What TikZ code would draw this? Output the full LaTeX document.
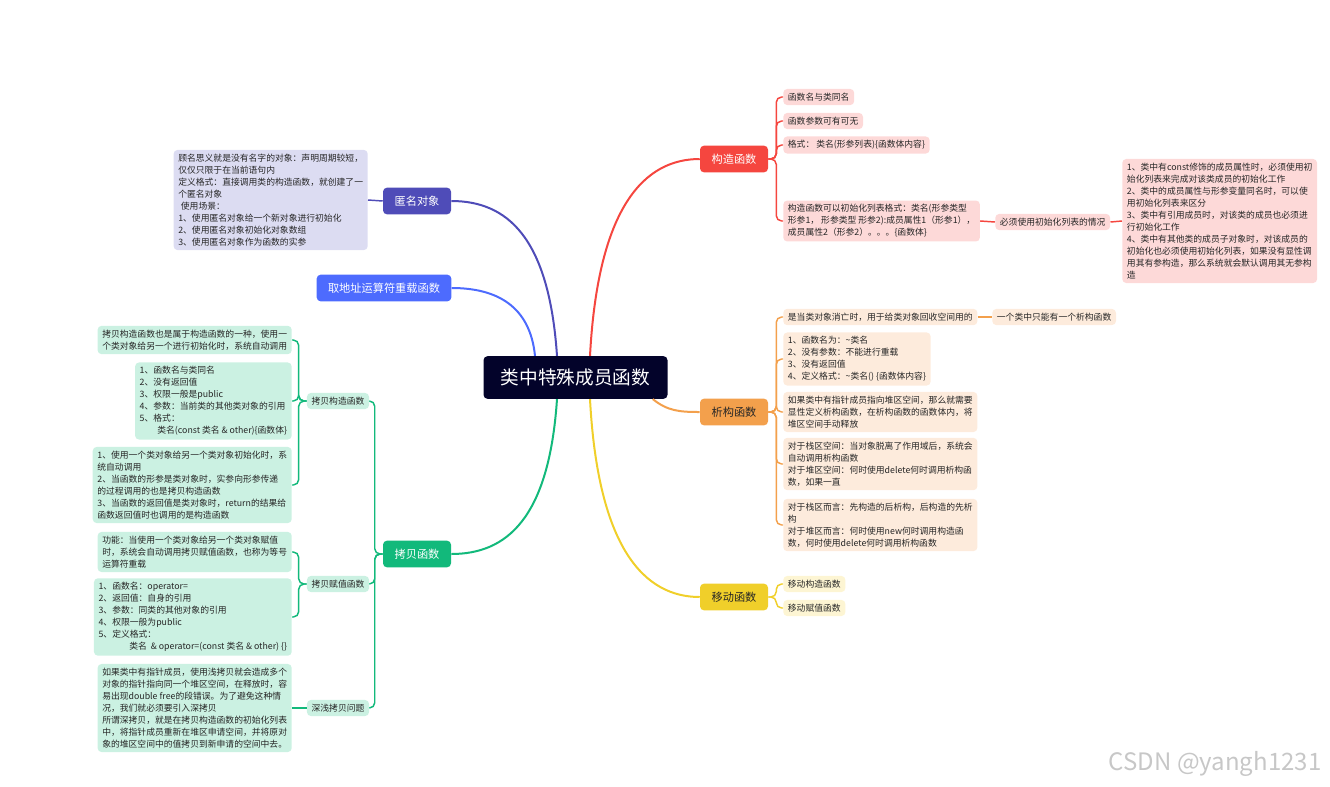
\documentclass[tikz,border=0pt]{standalone}
\usepackage{fontspec}
\setmainfont{Noto Sans CJK SC}
\usetikzlibrary{calc}
\definecolor{centro}{HTML}{03032A}
\definecolor{rojo}{HTML}{F5463F}
\definecolor{rojoc}{HTML}{FDD9D8}
\definecolor{naranja}{HTML}{F3A04C}
\definecolor{naranjac}{HTML}{FDEBDC}
\definecolor{amarillo}{HTML}{F0CF2A}
\definecolor{amarilloc}{HTML}{FDF5D3}
\definecolor{verde}{HTML}{12B97B}
\definecolor{verdec}{HTML}{CBF1E2}
\definecolor{azul}{HTML}{4D6BFE}
\definecolor{morado}{HTML}{4F4CB8}
\definecolor{moradoc}{HTML}{DCDCF2}
\begin{document}
\begin{tikzpicture}[x=0.75pt, y=-0.75pt,
    raiz/.style={fill=centro, text=white, rounded corners=3pt, minimum width=138pt, minimum height=32pt, font=\fontsize{14}{16}\selectfont},
    rama/.style={rounded corners=3pt, minimum width=51pt, minimum height=20pt, inner xsep=6pt, font=\fontsize{8.4}{10}\selectfont},
    hoja/.style={rounded corners=3pt, align=left, inner xsep=3.5pt, inner ysep=3pt, font=\fontsize{6.6}{9}\selectfont, text=black!85},
    curva/.style={line width=1.5pt},
    enlace/.style={line width=1.1pt, rounded corners=4pt}]
    \useasboundingbox (0,0) rectangle (1330,786);

    % Nodo central
    \node[raiz] (raiz) at (575.5,377.5) {类中特殊成员函数};

    % Ramas principales
    \node[rama, fill=morado, text=white] (anon) at (417,201) {匿名对象};
    \node[rama, fill=azul, text=white, minimum width=101pt] (direc) at (384,288) {取地址运算符重载函数};
    \node[rama, fill=rojo, text=white] (constr) at (734,159) {构造函数};
    \node[rama, fill=naranja, text=black!85] (destr) at (734,412) {析构函数};
    \node[rama, fill=amarillo, text=black!85] (mover) at (734,597) {移动函数};
    \node[rama, fill=verde, text=white] (copia) at (417,554) {拷贝函数};

    % Curvas desde el centro
    \draw[curva, morado] ($(raiz.north)+(-18.5,0)$) .. controls +(-8,-120) and +(55,0) .. (anon.east);
    \draw[curva, azul] ($(raiz.north)+(-40.5,0)$) .. controls +(-5,-50) and +(45,0) .. (direc.east);
    \draw[curva, rojo] ($(raiz.north)+(14.5,0)$) .. controls +(8,-150) and +(-55,0) .. (constr.west);
    \draw[curva, naranja] ($(raiz.south east)+(-15,0)$) .. controls +(15,12) and +(-20,0) .. (destr.west);
    \draw[curva, amarillo] ($(raiz.south)+(14.5,0)$) .. controls +(8,150) and +(-55,0) .. (mover.west);
    \draw[curva, verde] ($(raiz.south)+(-18.5,0)$) .. controls +(-8,120) and +(55,0) .. (copia.east);

    % Objeto anonimo
    \node[hoja, fill=moradoc, anchor=east] (an1) at (368,200) {顾名思义就是没有名字的对象：声明周期较短，\\仅仅只限于在当前语句内\\定义格式：直接调用类的构造函数，就创建了一\\个匿名对象\\\hspace*{2pt}使用场景：\\1、使用匿名对象给一个新对象进行初始化\\2、使用匿名对象初始化对象数组\\3、使用匿名对象作为函数的实参};
    \draw[enlace, morado] (anon.west) -- (an1.east);

    % Constructor
    \node[hoja, fill=rojoc, anchor=west] (c1) at (783,97) {函数名与类同名};
    \node[hoja, fill=rojoc, anchor=west] (c2) at (783,121) {函数参数可有可无};
    \node[hoja, fill=rojoc, anchor=west] (c3) at (783,145) {格式： 类名(形参列表)\{函数体内容\}};
    \node[hoja, fill=rojoc, anchor=west] (c4) at (783,221) {构造函数可以初始化列表格式：类名(形参类型\\形参1， 形参类型 形参2):成员属性1（形参1），\\成员属性2（形参2）。。。\{函数体\}};
    \node[hoja, fill=rojoc, anchor=west] (c5) at (995,222) {必须使用初始化列表的情况};
    \node[hoja, fill=rojoc, anchor=west] (c6) at (1122,221) {1、类中有const修饰的成员属性时，必须使用初\\始化列表来完成对该类成员的初始化工作\\2、类中的成员属性与形参变量同名时，可以使\\用初始化列表来区分\\3、类中有引用成员时，对该类的成员也必须进\\行初始化工作\\4、类中有其他类的成员子对象时，对该成员的\\初始化也必须使用初始化列表，如果没有显性调\\用其有参构造，那么系统就会默认调用其无参构\\造};
    \draw[enlace, rojo] (constr.east) -- ++(8,0) |- (c1.west);
    \draw[enlace, rojo] (constr.east) -- ++(8,0) |- (c2.west);
    \draw[enlace, rojo] (constr.east) -- ++(8,0) |- (c3.west);
    \draw[enlace, rojo] (constr.east) -- ++(8,0) |- (c4.west);
    \draw[enlace, rojo] (c4.east) -- (c5.west);
    \draw[enlace, rojo] (c5.east) -- (c6.west);

    % Destructor
    \node[hoja, fill=naranjac, anchor=west] (d1) at (783,317) {是当类对象消亡时，用于给类对象回收空间用的};
    \node[hoja, fill=naranjac, anchor=west] (d1b) at (992,317) {一个类中只能有一个析构函数};
    \node[hoja, fill=naranjac, anchor=west] (d2) at (783,359) {1、函数名为：\textasciitilde{}类名\\2、没有参数：不能进行重载\\3、没有返回值\\4、定义格式：\textasciitilde{}类名() \{函数体内容\}};
    \node[hoja, fill=naranjac, anchor=west] (d3) at (783,412) {如果类中有指针成员指向堆区空间，那么就需要\\显性定义析构函数，在析构函数的函数体内，将\\堆区空间手动释放};
    \node[hoja, fill=naranjac, anchor=west] (d4) at (783,464) {对于栈区空间：当对象脱离了作用域后，系统会\\自动调用析构函数\\对于堆区空间：何时使用delete何时调用析构函\\数，如果一直};
    \node[hoja, fill=naranjac, anchor=west] (d5) at (783,525) {对于栈区而言：先构造的后析构，后构造的先析\\构\\对于堆区而言：何时使用new何时调用构造函\\数，何时使用delete何时调用析构函数};
    \draw[enlace, naranja] (destr.east) -- ++(8,0) |- (d1.west);
    \draw[enlace, naranja] (destr.east) -- ++(8,0) |- (d2.west);
    \draw[enlace, naranja] (destr.east) -- ++(8,0) |- (d3.west);
    \draw[enlace, naranja] (destr.east) -- ++(8,0) |- (d4.west);
    \draw[enlace, naranja] (destr.east) -- ++(8,0) |- (d5.west);
    \draw[enlace, naranja] (d1.east) -- (d1b.west);

    % Movimiento
    \node[hoja, fill=amarilloc, anchor=west] (m1) at (783,584) {移动构造函数};
    \node[hoja, fill=amarilloc, anchor=west] (m2) at (783,608) {移动赋值函数};
    \draw[enlace, amarillo] (mover.east) -- ++(8,0) |- (m1.west);
    \draw[enlace, amarillo] (mover.east) -- ++(8,0) |- (m2.west);

    % Copia
    \node[hoja, fill=verdec] (k1) at (338,401) {拷贝构造函数};
    \node[hoja, fill=verdec] (k2) at (338,584) {拷贝赋值函数};
    \node[hoja, fill=verdec] (k3) at (338,708) {深浅拷贝问题};
    \draw[enlace, verde] (copia.west) -- ++(-8,0) |- (k1.east);
    \draw[enlace, verde] (copia.west) -- ++(-8,0) |- (k2.east);
    \draw[enlace, verde] (copia.west) -- ++(-8,0) |- (k3.east);

    \node[hoja, fill=verdec, anchor=east] (k1a) at (292,340) {拷贝构造函数也是属于构造函数的一种，使用一\\个类对象给另一个进行初始化时，系统自动调用};
    \node[hoja, fill=verdec, anchor=east] (k1b) at (292,401) {1、函数名与类同名\\2、没有返回值\\3、权限一般是public\\4、参数：当前类的其他类对象的引用\\5、格式：\\\hspace*{2em}类名(const 类名 \& other)\{函数体\}};
    \node[hoja, fill=verdec, anchor=east] (k1c) at (292,485) {1、使用一个类对象给另一个类对象初始化时，系\\统自动调用\\2、当函数的形参是类对象时，实参向形参传递\\的过程调用的也是拷贝构造函数\\3、当函数的返回值是类对象时，return的结果给\\函数返回值时也调用的是构造函数};
    \draw[enlace, verde] (k1.west) -- ++(-8,0) |- (k1a.east);
    \draw[enlace, verde] (k1.west) -- ++(-8,0) |- (k1b.east);
    \draw[enlace, verde] (k1.west) -- ++(-8,0) |- (k1c.east);

    \node[hoja, fill=verdec, anchor=east] (k2a) at (292,552) {功能：当使用一个类对象给另一个类对象赋值\\时，系统会自动调用拷贝赋值函数，也称为等号\\运算符重载};
    \node[hoja, fill=verdec, anchor=east] (k2b) at (292,617) {1、函数名：operator=\\2、返回值：自身的引用\\3、参数：同类的其他对象的引用\\4、权限一般为public\\5、定义格式：\\\hspace*{3.5em}类名 \ \& operator=(const 类名 \& other) \{\}};
    \draw[enlace, verde] (k2.west) -- ++(-8,0) |- (k2a.east);
    \draw[enlace, verde] (k2.west) -- ++(-8,0) |- (k2b.east);

    \node[hoja, fill=verdec, anchor=east] (k3a) at (292,708) {如果类中有指针成员，使用浅拷贝就会造成多个\\对象的指针指向同一个堆区空间，在释放时，容\\易出现double free的段错误。为了避免这种情\\况，我们就必须要引入深拷贝\\所谓深拷贝，就是在拷贝构造函数的初始化列表\\中，将指针成员重新在堆区申请空间，并将原对\\象的堆区空间中的值拷贝到新申请的空间中去。};
    \draw[enlace, verde] (k3.west) -- (k3a.east);

    % Marca de agua
    \node[text=black!22, anchor=east, font=\fontsize{18}{20}\selectfont] (marca) at (1326,764) {CSDN @yangh1231};
\end{tikzpicture}
\end{document}
